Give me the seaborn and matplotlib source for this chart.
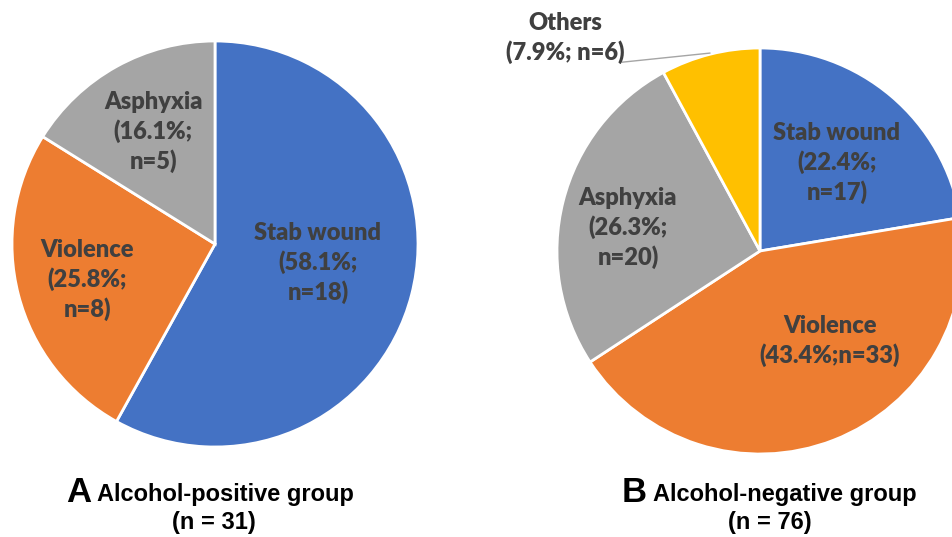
import matplotlib
matplotlib.use("Agg")
import matplotlib.pyplot as plt
import seaborn as sns

# ---------------------------------------------------------------------------
# Data
# ---------------------------------------------------------------------------
pos_causes = ["Stab wound", "Violence", "Asphyxia"]
pos_counts = [18, 8, 5]
pos_pcts = [58.1, 25.8, 16.1]

neg_causes = ["Stab wound", "Violence", "Asphyxia", "Others"]
neg_counts = [17, 33, 20, 6]
neg_pcts = [22.4, 43.4, 26.3, 7.9]

pos_labels = ["Stab wound\n(58.1%;\nn=18)", "Violence\n(25.8%;\nn=8)", "Asphyxia\n(16.1%;\nn=5)"]
neg_labels = ["Stab wound\n(22.4%;\nn=17)", "Violence\n(43.4%;n=33)", "Asphyxia\n(26.3%;\nn=20)", "Others\n(7.9%; n=6)"]

# ---------------------------------------------------------------------------
# Style
# ---------------------------------------------------------------------------
sns.set_theme(style="white")
plt.rcParams["font.family"] = ["Lato", "DejaVu Sans"]

colors = {"Stab wound": "#4472C4", "Violence": "#ED7D31", "Asphyxia": "#A5A5A5", "Others": "#FFC000"}
label_color = "#404040"
W, H = 952, 537
R = 203  # pie radius in pixels

# label anchors in pie units (layout only)
pos_label_xy = [(0.507, -0.094), (-0.63, -0.177), (-0.305, 0.552)]
neg_label_xy = [(0.379, 0.433), (0.345, -0.443), (-0.65, 0.113), (-0.96, 1.05)]

fig = plt.figure(figsize=(W / 100, H / 100), dpi=100)


def pie_axes(cx, cy):
    return fig.add_axes([(cx - R) / W, (H - cy - R) / H, 2 * R / W, 2 * R / H])


def draw_pie(ax, causes, counts, labels, label_xy):
    ax.pie(
        counts,
        colors=[colors[c] for c in causes],
        startangle=90,
        counterclock=False,
        radius=1,
        wedgeprops=dict(edgecolor="white", linewidth=2),
    )
    ax.set_xlim(-1, 1)
    ax.set_ylim(-1, 1)
    for lab, (x, y) in zip(labels, label_xy):
        ax.text(x, y, lab, ha="center", va="center", fontsize=17,
                fontweight="heavy", color=label_color, linespacing=1.32, clip_on=False)


ax_a = pie_axes(215, 244)
draw_pie(ax_a, pos_causes, pos_counts, pos_labels, pos_label_xy)

ax_b = pie_axes(760, 251)
draw_pie(ax_b, neg_causes, neg_counts, neg_labels, neg_label_xy)
# leader line for the small "Others" slice
ax_b.plot([-0.68, -0.246], [0.93, 0.975], color="#A5A5A5", lw=1, clip_on=False)

# ---------------------------------------------------------------------------
# Captions
# ---------------------------------------------------------------------------
cap_font = ["Liberation Sans Narrow", "Liberation Sans", "DejaVu Sans"]


def ftext(x, y, s, **kw):
    fig.text(x / W, 1 - y / H, s, va="center", fontweight="bold", color="black",
             family=cap_font, **kw)


ftext(66, 492, "A", fontsize=25, ha="left")
ftext(97, 494, "Alcohol-positive group", fontsize=17, ha="left")
ftext(214, 522, "(n = 31)", fontsize=17, ha="center")

ftext(622, 492, "B", fontsize=25, ha="left")
ftext(653, 494, "Alcohol-negative group", fontsize=17, ha="left")
ftext(770, 522, "(n = 76)", fontsize=17, ha="center")

fig.savefig("out.png", dpi=100)
